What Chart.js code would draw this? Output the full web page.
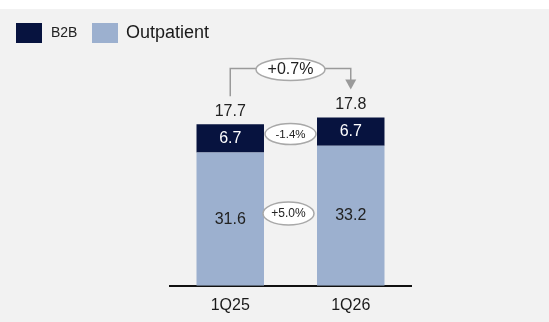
<!DOCTYPE html>
<html>
<head>
<meta charset="utf-8">
<script src="https://cdn.jsdelivr.net/npm/chart.js@4"></script>
<style>
  html, body { margin: 0; padding: 0; background: #fff; }
  canvas { display: block; }
</style>
</head>
<body>
<canvas id="revenue-mix-chart" width="549" height="322"></canvas>
<script>
const categories = ["1Q25", "1Q26"];
const outpatientValues = [31.6, 33.2];
const b2bValues = [6.7, 6.7];
const totalValues = [17.7, 17.8];
// growth between the two quarters, per segment and for the total
const outpatientChange = "+5.0%";
const b2bChange = "-1.4%";
const totalChange = "+0.7%";

const NAVY = "#07133f";
const LIGHT = "#9cb0cf";
const FONT = "'Liberation Sans', Arial, sans-serif";

function ellipseLabel(ctx, x, y, w, h, text, size) {
  ctx.save();
  ctx.beginPath();
  ctx.ellipse(x, y, w / 2, h / 2, 0, 0, Math.PI * 2);
  ctx.fillStyle = "#fff";
  ctx.fill();
  ctx.lineWidth = 1.5;
  ctx.strokeStyle = "#a8a8a8";
  ctx.stroke();
  ctx.fillStyle = "#222";
  ctx.font = size + "px " + FONT;
  ctx.textAlign = "center";
  ctx.textBaseline = "middle";
  ctx.fillText(text, x, y + 0.5);
  ctx.restore();
}

const backgroundPlugin = {
  id: "panelBackground",
  beforeDraw(chart) {
    const ctx = chart.ctx;
    ctx.save();
    ctx.fillStyle = "#fff";
    ctx.fillRect(0, 0, chart.width, chart.height);
    ctx.fillStyle = "#f2f2f2";
    ctx.fillRect(0, 9, chart.width, chart.height - 9);
    ctx.restore();
  }
};

const annotationsPlugin = {
  id: "barAnnotations",
  afterDatasetsDraw(chart) {
    const ctx = chart.ctx;
    const outMeta = chart.getDatasetMeta(0);
    const b2bMeta = chart.getDatasetMeta(1);

    ctx.save();
    ctx.textAlign = "center";
    ctx.textBaseline = "middle";
    ctx.font = "16px " + FONT;

    // values inside the segments
    outMeta.data.forEach((bar, i) => {
      ctx.fillStyle = "#222";
      ctx.fillText(outpatientValues[i].toFixed(1), bar.x, (bar.y + bar.base) / 2);
    });
    b2bMeta.data.forEach((bar, i) => {
      ctx.fillStyle = "#fff";
      ctx.fillText(b2bValues[i].toFixed(1), bar.x, (bar.y + bar.base) / 2);
    });

    // totals above each stack
    b2bMeta.data.forEach((bar, i) => {
      ctx.fillStyle = "#222";
      ctx.fillText(totalValues[i].toFixed(1), bar.x, bar.y - 13);
    });

    // bracket with arrow from first total to second
    const a = b2bMeta.data[0];
    const b = b2bMeta.data[1];
    const bracketY = Math.min(a.y, b.y) - 49;
    ctx.strokeStyle = "#9a9a9a";
    ctx.lineWidth = 1.5;
    ctx.beginPath();
    ctx.moveTo(a.x, a.y - 28);
    ctx.lineTo(a.x, bracketY);
    ctx.lineTo(b.x, bracketY);
    ctx.lineTo(b.x, b.y - 36);
    ctx.stroke();
    ctx.fillStyle = "#9a9a9a";
    ctx.beginPath();
    ctx.moveTo(b.x - 5.5, b.y - 38);
    ctx.lineTo(b.x + 5.5, b.y - 38);
    ctx.lineTo(b.x, b.y - 28);
    ctx.closePath();
    ctx.fill();
    ctx.restore();

    const midX = (a.x + b.x) / 2;
    ellipseLabel(ctx, midX, bracketY + 1, 69, 22, totalChange, 16);

    const b2bMid = (b2bMeta.data[0].y + b2bMeta.data[0].base + b2bMeta.data[1].y + b2bMeta.data[1].base) / 4;
    ellipseLabel(ctx, midX, b2bMid - 1, 51, 21, b2bChange, 11.5);

    const outMid = (outMeta.data[0].y + outMeta.data[0].base + outMeta.data[1].y + outMeta.data[1].base) / 4;
    ellipseLabel(ctx, midX - 2, outMid - 4, 51, 23, outpatientChange, 12);

    // legend, B2B first
    ctx.save();
    ctx.textBaseline = "middle";
    ctx.textAlign = "left";
    ctx.fillStyle = NAVY;
    ctx.fillRect(16, 23, 26, 20);
    ctx.fillStyle = "#222";
    ctx.font = "14px " + FONT;
    ctx.fillText(chart.data.datasets[1].label, 51, 33.5);
    ctx.fillStyle = LIGHT;
    ctx.fillRect(92, 23, 26, 20);
    ctx.fillStyle = "#1a1a1a";
    ctx.font = "18px " + FONT;
    ctx.fillText(chart.data.datasets[0].label, 126, 33);
    ctx.restore();
  }
};

new Chart(document.getElementById("revenue-mix-chart"), {
  type: "bar",
  data: {
    labels: categories,
    datasets: [
      {
        label: "Outpatient",
        data: outpatientValues,
        backgroundColor: LIGHT,
        categoryPercentage: 0.56,
        barPercentage: 1
      },
      {
        label: "B2B",
        data: b2bValues,
        backgroundColor: NAVY,
        categoryPercentage: 0.56,
        barPercentage: 1
      }
    ]
  },
  options: {
    responsive: false,
    animation: false,
    devicePixelRatio: 1,
    layout: {
      padding: { left: 170, right: 138, top: 96, bottom: -3 }
    },
    scales: {
      x: {
        stacked: true,
        grid: { display: false, drawTicks: false, tickLength: 0 },
        border: { display: true, color: "#111", width: 2 },
        ticks: {
          color: "#1a1a1a",
          padding: 10,
          font: { family: FONT, size: 16 }
        }
      },
      y: {
        stacked: true,
        display: false,
        min: 0,
        max: 45
      }
    },
    plugins: {
      legend: { display: false },
      tooltip: { enabled: false }
    }
  },
  plugins: [backgroundPlugin, annotationsPlugin]
});
</script>
</body>
</html>
